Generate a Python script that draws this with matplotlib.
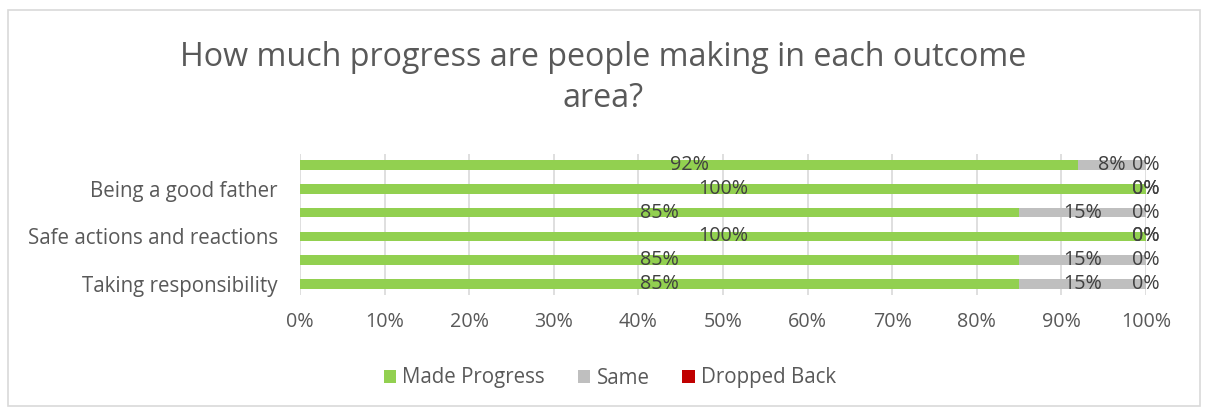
import matplotlib.pyplot as plt
import matplotlib.transforms as mtransforms
from matplotlib.patches import Rectangle
import numpy as np

plt.rcParams['font.family'] = ['Open Sans', 'DejaVu Sans']

# top to bottom, as they appear; Excel skipped every other label
categories = ['', 'Being a good father', '', 'Safe actions and reactions', '', 'Taking responsibility']
made_progress = [92, 100, 85, 100, 85, 85]
same = [8, 0, 15, 0, 15, 15]
dropped_back = [0, 0, 0, 0, 0, 0]
ticks = list(range(0, 101, 10))

fig = plt.figure(figsize=(12.09, 4.08), dpi=100)
fig.patches.append(Rectangle((8 / 1209, 0.005), 1192 / 1209, 0.97, transform=fig.transFigure,
                             fill=False, edgecolor='#D9D9D9', lw=1.2))
ax = fig.add_axes([300 / 1209, 113 / 408, 846 / 1209, 141 / 408])

y = np.arange(len(categories))[::-1]
mp = np.array(made_progress)
sm = np.array(same)
db = np.array(dropped_back)
h = 0.40
b1 = ax.barh(y, mp, height=h, color='#92D050', label='Made Progress')
b2 = ax.barh(y, sm, left=mp, height=h, color='#BFBFBF', label='Same')
b3 = ax.barh(y, db, left=mp + sm, height=h, color='#C00000', label='Dropped Back')
shift = mtransforms.ScaledTranslation(0, -2 / 100, fig.dpi_scale_trans)
for cont, vals in [(b1, made_progress), (b2, same), (b3, dropped_back)]:
    txts = ax.bar_label(cont, labels=[f'{v}%' for v in vals], label_type='center',
                        fontsize=14.2, color='#404040')
    for t in txts:
        t.set_transform(t.get_transform() + shift)

ax.set_xlim(0, 100)
ax.set_ylim(-0.46, 5.46)
ax.set_xticks(ticks)
ax.set_xticklabels([f'{t}%' for t in ticks], fontsize=14.2, color='#595959')
ax.set_yticks(y)
ax.set_yticklabels(categories, fontsize=14.8, color='#595959')
ax.tick_params(length=0)
ax.tick_params(axis='y', pad=16)
ax.tick_params(axis='x', pad=12)
ax.xaxis.grid(True, color='#D9D9D9', lw=1.2)
ax.set_axisbelow(True)
for s in ax.spines.values():
    s.set_visible(False)

fig.text(603 / 1209, 1 - 78 / 408, 'How much progress are people making in each outcome\narea?',
         ha='center', va='center', fontsize=23.2, color='#595959', linespacing=1.35)
fig.legend(handles=[b1, b2, b3], loc='center', bbox_to_anchor=(610 / 1209, 1 - 378 / 408), ncol=3,
           frameon=False, fontsize=14.8, labelcolor='#595959', handlelength=0.6, handleheight=0.6,
           handletextpad=0.3, columnspacing=1.6)

fig.savefig('out.png', dpi=100)
